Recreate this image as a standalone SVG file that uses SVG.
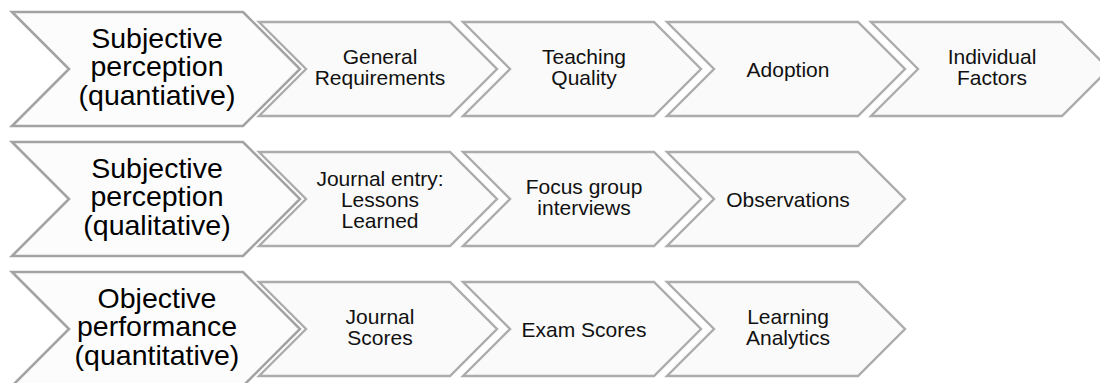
<svg xmlns="http://www.w3.org/2000/svg" width="1100" height="383" viewBox="0 0 1100 383">
<style>
.big{fill:#fcfcfc;stroke:#a3a3a3;stroke-width:2.6;stroke-linejoin:miter}
.sm{fill:#fafafa;stroke:#acacac;stroke-width:2.4;stroke-linejoin:miter}
.bt{font-family:"Liberation Sans",Arial,sans-serif;font-size:28.5px;fill:#000;text-anchor:middle}
.st{font-family:"Liberation Sans",Arial,sans-serif;font-size:21px;fill:#111;text-anchor:middle}
</style>
<defs>
<path id="bigShape" d="M12,12 H243 L300,69 L243,126 H12 L69,69 Z"/>
<path id="smShape" d="M0,22 H191 L238,69 L191,116 H0 L47,69 Z"/>
</defs>
<rect width="1100" height="383" fill="#fff"/>

<!-- Row 1 -->
<g id="row1-main">
<use href="#bigShape" class="big"/>
<text class="bt" x="157" y="47.5">Subjective</text>
<text class="bt" x="157" y="76">perception</text>
<text class="bt" x="157" y="104.5">(quantiative)</text>
</g>
<g id="row1-general" transform="translate(259,0)">
<use href="#smShape" class="sm"/>
<text class="st" x="121" y="64">General</text>
<text class="st" x="121" y="85">Requirements</text>
</g>
<g id="row1-teaching" transform="translate(463,0)">
<use href="#smShape" class="sm"/>
<text class="st" x="121" y="64">Teaching</text>
<text class="st" x="121" y="85">Quality</text>
</g>
<g id="row1-adoption" transform="translate(667,0)">
<use href="#smShape" class="sm"/>
<text class="st" x="121" y="76.5">Adoption</text>
</g>
<g id="row1-individual" transform="translate(871,0)">
<use href="#smShape" class="sm"/>
<text class="st" x="121" y="64">Individual</text>
<text class="st" x="121" y="85">Factors</text>
</g>

<!-- Row 2 -->
<g id="row2-main" transform="translate(0,130)">
<use href="#bigShape" class="big"/>
<text class="bt" x="157" y="47.5">Subjective</text>
<text class="bt" x="157" y="76">perception</text>
<text class="bt" x="157" y="104.5">(qualitative)</text>
</g>
<g id="row2-journal" transform="translate(259,130)">
<use href="#smShape" class="sm"/>
<text class="st" x="121" y="55.5">Journal entry:</text>
<text class="st" x="121" y="76.5">Lessons</text>
<text class="st" x="121" y="97.5">Learned</text>
</g>
<g id="row2-focus" transform="translate(463,130)">
<use href="#smShape" class="sm"/>
<text class="st" x="121" y="64">Focus group</text>
<text class="st" x="121" y="85">interviews</text>
</g>
<g id="row2-observations" transform="translate(667,130)">
<use href="#smShape" class="sm"/>
<text class="st" x="121" y="76.5">Observations</text>
</g>

<!-- Row 3 -->
<g id="row3-main" transform="translate(0,260)">
<use href="#bigShape" class="big"/>
<text class="bt" x="157" y="47.5">Objective</text>
<text class="bt" x="157" y="76">performance</text>
<text class="bt" x="157" y="104.5">(quantitative)</text>
</g>
<g id="row3-journal" transform="translate(259,260)">
<use href="#smShape" class="sm"/>
<text class="st" x="121" y="64">Journal</text>
<text class="st" x="121" y="85">Scores</text>
</g>
<g id="row3-exam" transform="translate(463,260)">
<use href="#smShape" class="sm"/>
<text class="st" x="121" y="76.5">Exam Scores</text>
</g>
<g id="row3-learning" transform="translate(667,260)">
<use href="#smShape" class="sm"/>
<text class="st" x="121" y="64">Learning</text>
<text class="st" x="121" y="85">Analytics</text>
</g>
</svg>
